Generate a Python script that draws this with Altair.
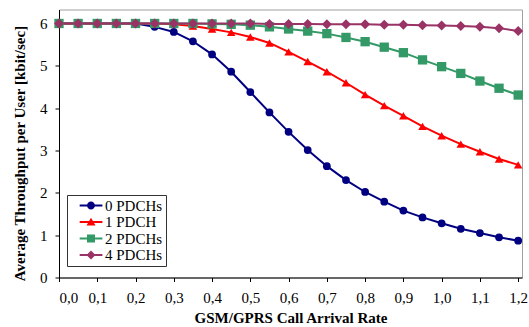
import altair as alt
import pandas as pd

x_vals = [0.0, 0.05, 0.1, 0.15, 0.2, 0.25, 0.3, 0.35, 0.4, 0.45, 0.5, 0.55, 0.6,
          0.65, 0.7, 0.75, 0.8, 0.85, 0.9, 0.95, 1.0, 1.05, 1.1, 1.15, 1.2]

series_names = ["0 PDCHs", "1 PDCH", "2 PDCHs", "4 PDCHs"]

s0 = [6.0, 6.0, 6.0, 6.0, 6.0, 5.92, 5.80, 5.58, 5.27, 4.86, 4.38, 3.90, 3.44,
      3.01, 2.63, 2.30, 2.02, 1.79, 1.58, 1.42, 1.28, 1.15, 1.05, 0.95, 0.87]
s1 = [6.0, 6.0, 6.0, 6.0, 6.0, 6.0, 5.98, 5.94, 5.87, 5.79, 5.68, 5.54, 5.33,
      5.10, 4.86, 4.60, 4.32, 4.06, 3.82, 3.57, 3.35, 3.15, 2.97, 2.80, 2.66]
s2 = [6.0, 6.0, 6.0, 6.0, 6.0, 6.0, 6.0, 6.0, 5.99, 5.98, 5.96, 5.92, 5.87,
      5.82, 5.76, 5.67, 5.57, 5.44, 5.31, 5.14, 4.98, 4.82, 4.64, 4.47, 4.31]
s4 = [6.0, 6.0, 6.0, 6.0, 6.0, 6.0, 6.0, 6.0, 6.0, 6.0, 6.0, 5.99, 5.99,
      5.99, 5.98, 5.98, 5.98, 5.97, 5.97, 5.96, 5.95, 5.94, 5.92, 5.89, 5.82]

x_ticks = [0.0, 0.1, 0.2, 0.3, 0.4, 0.5, 0.6, 0.7, 0.8, 0.9, 1.0, 1.1, 1.2]
y_ticks = [0, 1, 2, 3, 4, 5, 6]

colors = ["#000080", "#FF0000", "#339966", "#993366"]
shapes = ["circle", "triangle-up", "square", "diamond"]
marker_sizes = [60, 100, 81, 70]

# legend symbols: short line with a marker on it (unit = half symbol width)
ANCHOR = "M-1,0L-1,0.001Z "
LINE = "M0.29,-0.133H3.32V0.133H0.29Z "
legend_paths = [
    ANCHOR + LINE + "M2.333,0A0.533,0.533 0 1,1 1.267,0A0.533,0.533 0 1,1 2.333,0Z",
    ANCHOR + LINE + "M1.8,-0.58L2.4,0.45L1.2,0.45Z",
    ANCHOR + LINE + "M1.267,-0.533H2.333V0.533H1.267Z",
    ANCHOR + LINE + "M1.8,-0.6L2.4,0L1.8,0.6L1.2,0Z",
]

rows = []
for name, vals in zip(series_names, [s0, s1, s2, s4]):
    for xv, yv in zip(x_vals, vals):
        rows.append({"rate": xv, "thr": yv, "series": name})
df = pd.DataFrame(rows)

FONT = "Liberation Serif"

xenc = alt.X(
    "rate:Q",
    scale=alt.Scale(domain=[0, 1.21], nice=False, zero=False),
    axis=alt.Axis(
        values=x_ticks,
        labelExpr="replace(format(datum.value, '.1f'), '.', ',')",
        title="GSM/GPRS Call Arrival Rate",
        titleY=45,
        titleBaseline="alphabetic",
        labelPadding=9,
    ),
)
yenc = alt.Y(
    "thr:Q",
    scale=alt.Scale(domain=[0, 6.33], nice=False),
    axis=alt.Axis(
        values=y_ticks,
        format="d",
        title="Average Throughput per User [kbit/sec]",
        titleAngle=-90,
        titleX=-35,
        titleY=143.5,
        titleBaseline="alphabetic",
        titleAlign="center",
        labelPadding=8,
    ),
)

color_scale = alt.Scale(domain=series_names, range=colors)

base = alt.Chart(df)

lines = base.mark_line(strokeWidth=2).encode(
    x=xenc, y=yenc,
    color=alt.Color("series:N", scale=color_scale, legend=None),
)

points = base.mark_point(filled=True, opacity=1).encode(
    x=xenc, y=yenc,
    color=alt.Color("series:N", scale=color_scale, legend=None),
    shape=alt.Shape("series:N", scale=alt.Scale(domain=series_names, range=shapes), legend=None),
    size=alt.Size("series:N", scale=alt.Scale(domain=series_names, range=marker_sizes), legend=None),
)

leg = alt.Legend(
    title=None,
    orient="none",
    legendX=8,
    legendY=185.5,
    symbolSize=225,
    symbolOpacity=1,
    symbolStrokeWidth=0,
    labelFont=FONT,
    labelFontSize=15,
    labelColor="black",
    labelOffset=20,
    labelExpr="datum.label + '\u00a0\u00a0'",
    padding=3,
    rowPadding=0.5,
    strokeColor="#333333",
    fillColor="white",
)

legend_layer = base.mark_point(filled=True, opacity=0).encode(
    x=xenc, y=yenc,
    color=alt.Color("series:N", scale=color_scale, legend=leg),
    shape=alt.Shape("series:N", scale=alt.Scale(domain=series_names, range=legend_paths), legend=leg),
)

chart = (
    alt.layer(lines, points, legend_layer)
    .resolve_scale(color="independent", shape="independent", size="independent")
    .resolve_legend(color="independent", shape="independent", size="independent")
    .properties(
        width=463,
        height=268,
        autosize="none",
        background="white",
        padding={"left": 59, "top": 9.5, "right": 7, "bottom": 49.5},
    )
    .configure(font=FONT)
    .configure_view(stroke="#A0A0A0", strokeWidth=1)
    .configure_axis(
        grid=False,
        domainColor="black",
        domainWidth=1,
        tickColor="black",
        tickSize=4,
        labelFont=FONT,
        labelFontSize=15,
        labelColor="black",
        titleFont=FONT,
        titleFontSize=15,
        titleFontWeight="bold",
        titleColor="black",
    )
    .configure_legend(labelFont=FONT, labelFontSize=15)
)

chart.save("out.html", embed_options={"renderer": "svg", "actions": False})
